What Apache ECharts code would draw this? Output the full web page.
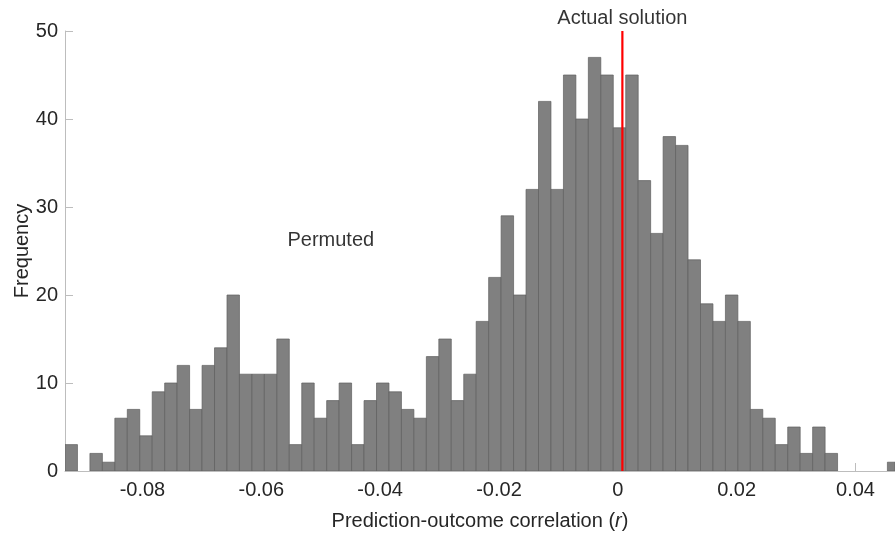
<!DOCTYPE html>
<html>
<head>
<meta charset="utf-8">
<script src="https://cdn.jsdelivr.net/npm/echarts@6/dist/echarts.min.js"></script>
<style>
  html, body { margin: 0; padding: 0; background: #fff; }
  #chart { width: 895px; height: 533px; }
</style>
</head>
<body>
<div id="chart"></div>
<script>
// Histogram of permuted prediction-outcome correlations (1000 permutations)
const binStart = -0.09303;   // left edge of the first bin
const binWidth = 0.002097;   // width of every bin
const binCounts = [
  3, 0, 2, 1, 6, 7, 4, 9, 10, 12,
  7, 12, 14, 20, 11, 11, 11, 15, 3, 10,
  6, 8, 10, 3, 8, 10, 9, 7, 6, 13,
  15, 8, 11, 17, 22, 29, 20, 32, 42, 32,
  45, 40, 47, 45, 39, 45, 33, 27, 38, 37,
  24, 19, 17, 20, 17, 7, 6, 3, 5, 2,
  5, 2, 0, 0, 0, 0, 1
];
const actualR = 0.00077;     // correlation of the actual solution
const xTicks = [-0.08, -0.06, -0.04, -0.02, 0, 0.02, 0.04];
const xTickLabels = ['-0.08', '-0.06', '-0.04', '-0.02', '0', '0.02', '0.04'];
const yTicks = [0, 10, 20, 30, 40, 50];
const permutedLabelAt = [-0.0483, 26.2];

const FONT = '"Liberation Sans", Arial, Helvetica, sans-serif';
const AXIS_COLOR = '#bdbdbd';
const TEXT_COLOR = '#262626';
const Y_MAX = 50;

const barData = binCounts.map((c, i) => [binStart + i * binWidth, binStart + (i + 1) * binWidth, c]);

const chart = echarts.init(document.getElementById('chart'), null, { renderer: 'canvas' });

chart.setOption({
  animation: false,
  backgroundColor: '#ffffff',
  textStyle: { fontFamily: FONT },
  grid: { left: 65, right: 0, top: 31, bottom: 62, containLabel: false, outerBoundsMode: 'none' },
  xAxis: {
    type: 'value',
    min: binStart,
    max: 0.04665,
    name: '{n|Prediction-outcome correlation (}{i|r}{n|)}',
    nameLocation: 'middle',
    nameGap: 40,
    nameMoveOverlap: false,
    nameTextStyle: {
      rich: {
        n: { fontSize: 20, color: TEXT_COLOR, fontFamily: FONT },
        i: { fontSize: 20, color: TEXT_COLOR, fontFamily: FONT, fontStyle: 'italic' }
      }
    },
    axisLine: { show: true, onZero: false, lineStyle: { color: AXIS_COLOR, width: 1 } },
    axisTick: { show: true, inside: true, length: 8, customValues: xTicks, lineStyle: { color: AXIS_COLOR } },
    axisLabel: {
      customValues: xTicks,
      formatter: v => {
        const k = xTicks.findIndex(t => Math.abs(t - v) < 1e-9);
        return k >= 0 ? xTickLabels[k] : '';
      },
      fontSize: 20, color: TEXT_COLOR, margin: 9, fontFamily: FONT
    },
    splitLine: { show: false }
  },
  yAxis: {
    type: 'value',
    min: 0,
    max: Y_MAX,
    interval: 10,
    name: 'Frequency',
    nameLocation: 'middle',
    nameGap: 33,
    nameMoveOverlap: false,
    nameTextStyle: { fontSize: 20, color: TEXT_COLOR, fontFamily: FONT },
    axisLine: { show: true, onZero: false, lineStyle: { color: AXIS_COLOR, width: 1 } },
    axisTick: { show: true, inside: true, length: 8, lineStyle: { color: AXIS_COLOR } },
    axisLabel: { fontSize: 20, color: TEXT_COLOR, margin: 7, fontFamily: FONT,
      formatter: v => (yTicks.includes(v) ? String(v) : '') },
    splitLine: { show: false }
  },
  series: [
    {
      type: 'custom',
      clip: true,
      silent: true,
      data: barData,
      encode: { x: [0, 1], y: 2 },
      renderItem: (params, api) => {
        const p0 = api.coord([api.value(0), 0]);
        const p1 = api.coord([api.value(1), api.value(2)]);
        const rect = echarts.graphic.clipRectByRect(
          { x: p0[0], y: p1[1], width: p1[0] - p0[0], height: p0[1] - p1[1] },
          { x: params.coordSys.x, y: params.coordSys.y, width: params.coordSys.width, height: params.coordSys.height }
        );
        if (!rect || api.value(2) <= 0) return null;
        return {
          type: 'rect',
          shape: rect,
          style: { fill: '#808080', stroke: '#5e5e5e', lineWidth: 0.7 }
        };
      },
      z: 2
    },
    {
      // actual-solution marker line
      type: 'line',
      silent: true,
      data: [[actualR, 0], [actualR, Y_MAX]],
      symbol: 'none',
      lineStyle: { color: '#ff0000', width: 2.2 },
      z: 5
    },
    {
      type: 'scatter',
      silent: true,
      clip: false,
      data: [[actualR, Y_MAX]],
      symbolSize: 0,
      label: {
        show: true, position: 'top', distance: 3, formatter: 'Actual solution',
        fontSize: 20, color: '#000000', fontFamily: FONT
      },
      z: 5
    },
    {
      type: 'scatter',
      silent: true,
      data: [permutedLabelAt],
      symbolSize: 0,
      label: {
        show: true, position: 'inside', formatter: 'Permuted',
        fontSize: 20, color: '#000000', fontFamily: FONT
      },
      z: 5
    }
  ]
});
</script>
</body>
</html>
